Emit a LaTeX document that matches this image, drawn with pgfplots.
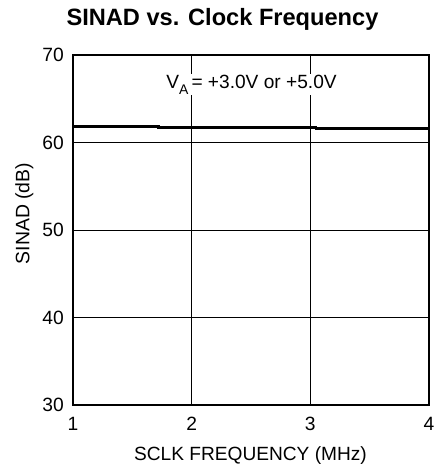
\documentclass[border=0pt]{standalone}
\usepackage{pgfplots}
\pgfplotsset{compat=1.18}
\usepackage{fontspec}
\setmainfont{Liberation Sans}
\begin{document}
\begin{tikzpicture}
\begin{axis}[
  name=ax,
  at={(0,0)}, anchor=south west,
  scale only axis,
  width=356bp, height=350bp,
  xmin=1, xmax=4, ymin=30, ymax=70,
  xtick={1,2,3,4}, ytick={30,40,50,60,70},
  grid=major,
  major grid style={black, line width=0.8pt},
  axis line style={black, line width=1.1pt},
  major tick length=0pt,
  tick label style={font=\fontsize{19.3}{19.3}\selectfont, inner sep=0pt},
  /pgf/number format/assume math mode=true,
  xticklabel style={anchor=north, yshift=-11.7bp},
  yticklabel style={anchor=east, xshift=-9bp},
  clip=false,
]
\addplot[black, line width=2.4pt] coordinates {
  (1,61.81) (1.72,61.81) (1.72,61.71) (3.05,61.71) (3.05,61.6) (4,61.6)
};
\node[font=\fontsize{19.2}{19.2}\selectfont, anchor=base, fill=white, inner sep=0.5pt] at (axis cs:2.504,66.19) {V\raisebox{-6.5bp}{\fontsize{14}{14}\selectfont A}\,= +3.0V or +5.0V};
\end{axis}
\node[font=\fontsize{23.7}{23.7}\selectfont\bfseries, anchor=base] at (149.5bp,379bp) {SINAD vs. Clock Frequency};
\node[font=\fontsize{19.2}{19.2}\selectfont, anchor=base] at (177.5bp,-55.7bp) {SCLK FREQUENCY (MHz)};
\node[font=\fontsize{19.5}{19.5}\selectfont, anchor=base, rotate=90] at (-43.5bp,191.5bp) {SINAD (dB)};
\pgfresetboundingbox
\path[use as bounding box] (-73bp,-65bp) rectangle (363bp,405bp);
\end{tikzpicture}
\end{document}
